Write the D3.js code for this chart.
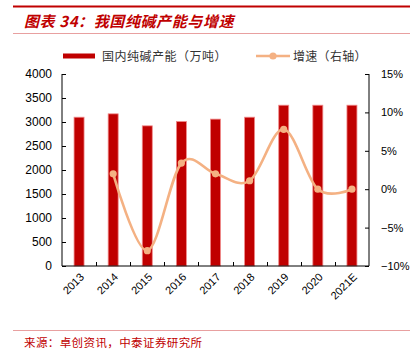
<!DOCTYPE html>
<html><head><meta charset="utf-8">
<script src="https://cdn.jsdelivr.net/npm/d3@7"></script>
<style>
html,body{margin:0;padding:0;background:#fff;}
svg{display:block;}
</style></head>
<body>
<svg id="c" width="415" height="353"></svg>
<script>
const categories = ["2013","2014","2015","2016","2017","2018","2019","2020","2021E"];
const capacity = [3100,3170,2920,3010,3060,3100,3350,3350,3350];
const growth = [null,2.0,-8.0,3.4,2.0,1.1,7.8,0.0,0.0];
const leftTicks = [0,500,1000,1500,2000,2500,3000,3500,4000];
const rightTicks = [-10,-5,0,5,10,15];

const svg = d3.select("#c");
const num = "'Liberation Sans', Arial, sans-serif";
const cjk = "'Noto Sans CJK SC', sans-serif";
const red = "#c00000";

// header / footer decorations
svg.append("line").attr("x1",13).attr("x2",410).attr("y1",6.5).attr("y2",6.5).attr("stroke","#c00000").attr("stroke-width",2);
svg.append("line").attr("x1",13).attr("x2",410).attr("y1",33.5).attr("y2",33.5).attr("stroke","#e8a0a0").attr("stroke-width",1);
svg.append("text").attr("x",24).attr("y",27).attr("font-family",cjk).attr("font-size",15).attr("font-weight","bold")
  .attr("font-style","italic").attr("fill",red).attr("letter-spacing",0.6).text("图表 34：我国纯碱产能与增速");
svg.append("line").attr("x1",13).attr("x2",410).attr("y1",330.5).attr("y2",330.5).attr("stroke","#e8a0a0").attr("stroke-width",1);
svg.append("text").attr("x",24).attr("y",347).attr("font-family",cjk).attr("font-size",11.5).attr("fill",red)
  .attr("letter-spacing",0.4).text("来源：卓创资讯，中泰证券研究所");

const L = 62, R = 369, T = 74, B = 266;
const x = d3.scaleBand().domain(categories).range([L,R]).padding(0);
const yL = d3.scaleLinear().domain([0,4000]).range([B,T]);
const yR = d3.scaleLinear().domain([-10,15]).range([B,T]);

// bars
const bw = 10;
svg.append("g").selectAll("rect").data(categories).join("rect")
  .attr("x",d=>x(d)+x.bandwidth()/2-bw/2)
  .attr("y",(d,i)=>yL(capacity[i]))
  .attr("width",bw)
  .attr("height",(d,i)=>B-yL(capacity[i]))
  .attr("fill",red).attr("stroke","#f08a8a").attr("stroke-width",0.8);

// axes
const gL = svg.append("g").attr("transform",`translate(${L},0)`)
  .call(d3.axisLeft(yL).tickValues(leftTicks).tickSize(-4).tickPadding(10).tickFormat(d3.format("d")));
const gR = svg.append("g").attr("transform",`translate(${R},0)`)
  .call(d3.axisRight(yR).tickValues(rightTicks).tickSize(-4).tickPadding(12).tickFormat(d=>d3.format("d")(d)+"%"));
const gB = svg.append("g").attr("transform",`translate(0,${B})`)
  .call(d3.axisBottom(x).tickSize(0).tickPadding(0));
[gL,gR,gB].forEach(g=>{
  g.select(".domain").attr("stroke","#000");
  g.selectAll(".tick line").attr("stroke","#000");
  g.selectAll("text").attr("font-family",num).attr("fill","#000");
});
gL.selectAll("text").attr("font-size",12);
gR.selectAll("text").attr("font-size",11);
gL.select(".domain").attr("d",`M0,${B}V${T}`);
gR.select(".domain").attr("d",`M0,${B}V${T}`);
gB.select(".domain").attr("d",`M${L},0H${R}`);
gB.selectAll(".tick text").attr("font-size",11)
  .attr("y",0)
  .attr("text-anchor","end")
  .attr("transform","translate(3,9) rotate(-45)")
  .attr("dy","0.35em");
// x boundary ticks (inward)
svg.append("g").selectAll("line").data(categories.slice(1)).join("line")
  .attr("x1",d=>Math.round(x(d))+0.5).attr("x2",d=>Math.round(x(d))+0.5)
  .attr("y1",B).attr("y2",B-4).attr("stroke","#000");

// growth line
const pts = categories.map((c,i)=>({c,v:growth[i]})).filter(p=>p.v!==null);
const lineColor = "#f4b183";
svg.append("path").datum(pts)
  .attr("d",d3.line().x(p=>x(p.c)+x.bandwidth()/2).y(p=>yR(p.v)).curve(d3.curveCardinal.tension(0)))
  .attr("fill","none").attr("stroke",lineColor).attr("stroke-width",2.6);
svg.append("g").selectAll("circle").data(pts).join("circle")
  .attr("cx",p=>x(p.c)+x.bandwidth()/2).attr("cy",p=>yR(p.v)).attr("r",3.6).attr("fill",lineColor);

// legend
const ly = 56;
svg.append("rect").attr("x",63).attr("y",ly-2.5).attr("width",32).attr("height",5).attr("fill",red);
svg.append("text").attr("x",102).attr("y",ly+4.5).attr("font-family",cjk).attr("font-size",12).attr("fill","#333")
  .attr("letter-spacing",0.5).text("国内纯碱产能（万吨）");
svg.append("line").attr("x1",256).attr("x2",290).attr("y1",ly).attr("y2",ly).attr("stroke",lineColor).attr("stroke-width",2.6);
svg.append("circle").attr("cx",273).attr("cy",ly).attr("r",3.6).attr("fill",lineColor);
svg.append("text").attr("x",293).attr("y",ly+4.5).attr("font-family",cjk).attr("font-size",12).attr("fill","#333")
  .attr("letter-spacing",0.3).text("增速（右轴）");
</script>
</body></html>
